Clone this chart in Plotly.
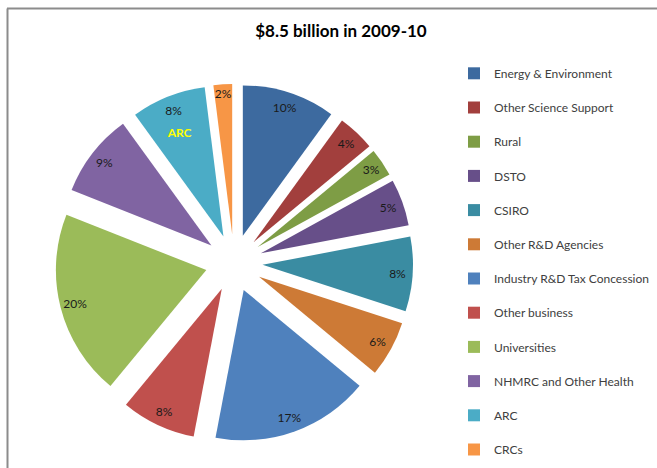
import plotly.graph_objects as go

categories = ["Energy & Environment", "Other Science Support", "Rural", "DSTO", "CSIRO",
              "Other R&D Agencies", "Industry R&D Tax Concession", "Other business",
              "Universities", "NHMRC and Other Health", "ARC", "CRCs"]
shares = [10, 4, 3, 5, 8, 6, 17, 8, 20, 9, 8, 2]
colors = ["#3D6A9F", "#A23F3D", "#7E9D45", "#674F89", "#3A8CA2", "#CD7A36",
          "#4F81BD", "#C0504D", "#9BBB59", "#8064A2", "#4BACC6", "#F79646"]
title_text = "$8.5 billion in 2009-10"
highlight = "ARC"

W, H = 657, 468
font_family = "Lato, 'Open Sans', sans-serif"
pull = 0.19
domain_x = [55 / W, 413 / W]
domain_y = [1 - 442 / H, 1 - 84 / H]

legend_labels = [c + "<br> " for c in categories]

fig = go.Figure()
# base pie (colored slices, legend)
fig.add_trace(go.Pie(
    labels=legend_labels, values=shares, sort=False, direction="clockwise", rotation=0,
    marker=dict(colors=colors, line=dict(width=0)),
    pull=pull, domain=dict(x=domain_x, y=domain_y),
    text=[" <br><b>" + highlight + "</b>" if c == highlight else "" for c in categories],
    textinfo="text", textposition="inside", insidetextorientation="horizontal",
    textfont=dict(family=font_family, size=12, color="#FFFF00"),
    hovertemplate="%{label}: %{percent}<extra></extra>",
    showlegend=True,
))
# transparent ring overlay to carry the percentage labels near the rim
fig.add_trace(go.Pie(
    labels=legend_labels, values=shares, sort=False, direction="clockwise", rotation=0,
    marker=dict(colors=["rgba(0,0,0,0)"] * len(shares), line=dict(width=0)),
    pull=pull, hole=0.8, domain=dict(x=domain_x, y=domain_y),
    textinfo="percent", textposition="inside", insidetextorientation="horizontal",
    textfont=dict(family=font_family, size=12, color="#1A1A1A"),
    hoverinfo="skip", showlegend=False,
))

fig.update_layout(
    width=W, height=H,
    margin=dict(l=0, r=0, t=0, b=0, autoexpand=False),
    paper_bgcolor="white", plot_bgcolor="white",
    uniformtext=dict(minsize=12, mode="show"),
    title=dict(text="<b>" + title_text + "</b>", x=0.519, xanchor="center",
               y=1 - 31 / H, yanchor="middle", yref="container",
               font=dict(family=font_family, size=17, color="#000000")),
    legend=dict(x=454 / W, xanchor="left", y=1 - 59 / H, yanchor="top",
                valign="top", maxheight=700,
                font=dict(family=font_family, size=12, color="#404040"),
                bgcolor="rgba(0,0,0,0)", borderwidth=0),
    shapes=[
        dict(type="line", xref="paper", yref="paper", x0=7 / W, x1=1.0,
             y0=1 - 8.5 / H, y1=1 - 8.5 / H, line=dict(color="#8C8C8C", width=2)),
        dict(type="line", xref="paper", yref="paper", x0=7.5 / W, x1=7.5 / W,
             y0=0, y1=1 - 8.5 / H, line=dict(color="#8C8C8C", width=2)),
    ],
)

fig.write_html("out.html")
